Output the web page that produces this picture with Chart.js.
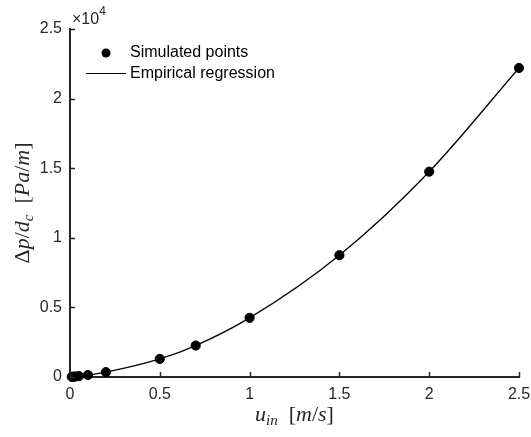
<!DOCTYPE html>
<html><head><meta charset="utf-8">
<script src="https://cdn.jsdelivr.net/npm/chart.js@4/dist/chart.umd.min.js"></script>
<style>html,body{margin:0;padding:0;background:#fff}#wrap{width:531px;height:437px;position:relative}</style>
</head><body><div id="wrap"><canvas id="c" width="531" height="437"></canvas></div>
<script>
// ---- data ----
const inletVelocity = [0.01, 0.02, 0.03, 0.05, 0.1, 0.2, 0.5, 0.7, 1.0, 1.5, 2.0, 2.5];
const pressureGradient = [11, 24, 36, 64, 143, 350, 1300, 2260, 4250, 8750, 14750, 22200];
const regressionVelocity = [0, 0.01, 0.02, 0.03, 0.05, 0.1, 0.2, 0.5, 0.7, 1.0, 1.5, 2.0, 2.5];
const regressionGradient = [0, 11, 24, 36, 64, 143, 350, 1300, 2260, 4250, 8750, 14750, 22200];
const xTickValues = [0, 0.5, 1, 1.5, 2, 2.5];
const xTickLabels = ['0', '0.5', '1', '1.5', '2', '2.5'];
const yTickValues = [0, 5000, 10000, 15000, 20000, 25000];
const yTickLabels = ['0', '0.5', '1', '1.5', '2', '2.5'];
const seriesNames = ['Simulated points', 'Empirical regression'];
const exponentLabel = ['×10', '4'];

const AX = '#262626';
const SANS = '"Liberation Sans", Arial, sans-serif';
const SERIF = '"Liberation Serif", "Times New Roman", serif';

function drawRich(ctx, segs, cx, cy, rot) {
  ctx.save();
  ctx.translate(cx, cy);
  if (rot) ctx.rotate(rot);
  let w = 0;
  for (const s of segs) {
    ctx.font = (s.it ? 'italic ' : '') + s.size + 'px ' + SERIF;
    s.w = ctx.measureText(s.t).width;
    w += s.w + (s.gap || 0);
  }
  let x = -w / 2;
  ctx.fillStyle = AX;
  ctx.textBaseline = 'alphabetic';
  ctx.textAlign = 'left';
  for (const s of segs) {
    ctx.font = (s.it ? 'italic ' : '') + s.size + 'px ' + SERIF;
    ctx.fillText(s.t, x, 7 + (s.dy || 0));
    x += s.w + (s.gap || 0);
  }
  ctx.restore();
}

const overlay = {
  id: 'overlay',
  afterDraw(chart) {
    const ctx = chart.ctx;
    const xs = chart.scales.x, ys = chart.scales.y;
    const a = chart.chartArea;
    ctx.save();
    // inward tick marks
    ctx.strokeStyle = AX;
    ctx.lineWidth = 1.5;
    ctx.beginPath();
    for (const v of xTickValues) {
      const px = Math.round(xs.getPixelForValue(v)) + 0.5;
      ctx.moveTo(px, a.bottom); ctx.lineTo(px, a.bottom - 5);
    }
    for (const v of yTickValues) {
      const py = Math.round(ys.getPixelForValue(v)) + 0.5;
      ctx.moveTo(a.left, py); ctx.lineTo(a.left + 5, py);
    }
    ctx.stroke();
    // exponent label
    ctx.fillStyle = AX;
    ctx.textAlign = 'left';
    ctx.textBaseline = 'alphabetic';
    ctx.font = '16px ' + SANS;
    ctx.fillText(exponentLabel[0], a.left + 2, 24);
    const w = ctx.measureText(exponentLabel[0]).width;
    ctx.font = '12px ' + SANS;
    ctx.fillText(exponentLabel[1], a.left + 2 + w, 15);
    // legend
    ctx.fillStyle = '#000';
    ctx.beginPath(); ctx.arc(106, 53, 4.5, 0, Math.PI * 2); ctx.fill();
    ctx.strokeStyle = '#000'; ctx.lineWidth = 1.2;
    ctx.beginPath(); ctx.moveTo(86, 73.5); ctx.lineTo(126, 73.5); ctx.stroke();
    ctx.font = '16px ' + SANS;
    ctx.textBaseline = 'middle';
    ctx.fillText(seriesNames[0], 130, 53);
    ctx.fillText(seriesNames[1], 130, 74);
    // axis titles
    const cx = (a.left + a.right) / 2;
    drawRich(ctx, [
      {t: 'u', it: true, size: 22},
      {t: 'in', it: true, size: 15, dy: 4, gap: 11},
      {t: '[', size: 22},
      {t: 'm', it: true, size: 22},
      {t: '/', size: 22},
      {t: 's', it: true, size: 22},
      {t: ']', size: 22}
    ], cx, 414, 0);
    const cy = (a.top + a.bottom) / 2;
    drawRich(ctx, [
      {t: 'Δ', size: 22},
      {t: 'p', it: true, size: 22},
      {t: '/', size: 22},
      {t: 'd', it: true, size: 22},
      {t: 'c', it: true, size: 15, dy: 4, gap: 11},
      {t: '[', size: 22},
      {t: 'Pa', it: true, size: 22},
      {t: '/', size: 22},
      {t: 'm', it: true, size: 22},
      {t: ']', size: 22}
    ], 22, cy, -Math.PI / 2);
    ctx.restore();
  }
};

new Chart(document.getElementById('c'), {
  type: 'scatter',
  data: {
    datasets: [
      {
        label: seriesNames[0],
        data: inletVelocity.map((v, i) => ({x: v, y: pressureGradient[i]})),
        backgroundColor: '#000', borderColor: '#000',
        pointRadius: 4.6, pointHoverRadius: 4.6, showLine: false, clip: false, order: 0
      },
      {
        label: seriesNames[1],
        data: regressionVelocity.map((v, i) => ({x: v, y: regressionGradient[i]})),
        borderColor: '#000', borderWidth: 1.3, pointRadius: 0, showLine: true,
        cubicInterpolationMode: 'monotone', fill: false, order: 1
      }
    ]
  },
  options: {
    responsive: false, animation: false,
    layout: {padding: {left: 0, top: 29, right: 0, bottom: 0}},
    plugins: {legend: {display: false}, tooltip: {enabled: false}},
    scales: {
      x: {
        type: 'linear', min: 0, max: 2.5,
        afterFit: s => { s.height = 60; s.paddingRight = 12; },
        afterBuildTicks: s => { s.ticks = xTickValues.map(v => ({value: v})); },
        grid: {display: false, drawTicks: false},
        border: {display: true, color: AX, width: 2},
        ticks: {
          padding: 8, color: AX, font: {family: SANS, size: 16},
          maxRotation: 0, autoSkip: false,
          callback: (v) => { const i = xTickValues.indexOf(v); return i >= 0 ? xTickLabels[i] : ''; }
        }
      },
      y: {
        type: 'linear', min: 0, max: 25000,
        afterFit: s => { s.width = 70; },
        afterBuildTicks: s => { s.ticks = yTickValues.map(v => ({value: v})); },
        grid: {display: false, drawTicks: false},
        border: {display: true, color: AX, width: 2},
        ticks: {
          padding: 8, color: AX, font: {family: SANS, size: 16}, autoSkip: false,
          callback: (v) => { const i = yTickValues.indexOf(v); return i >= 0 ? yTickLabels[i] : ''; }
        }
      }
    }
  },
  plugins: [overlay]
});
</script></body></html>
